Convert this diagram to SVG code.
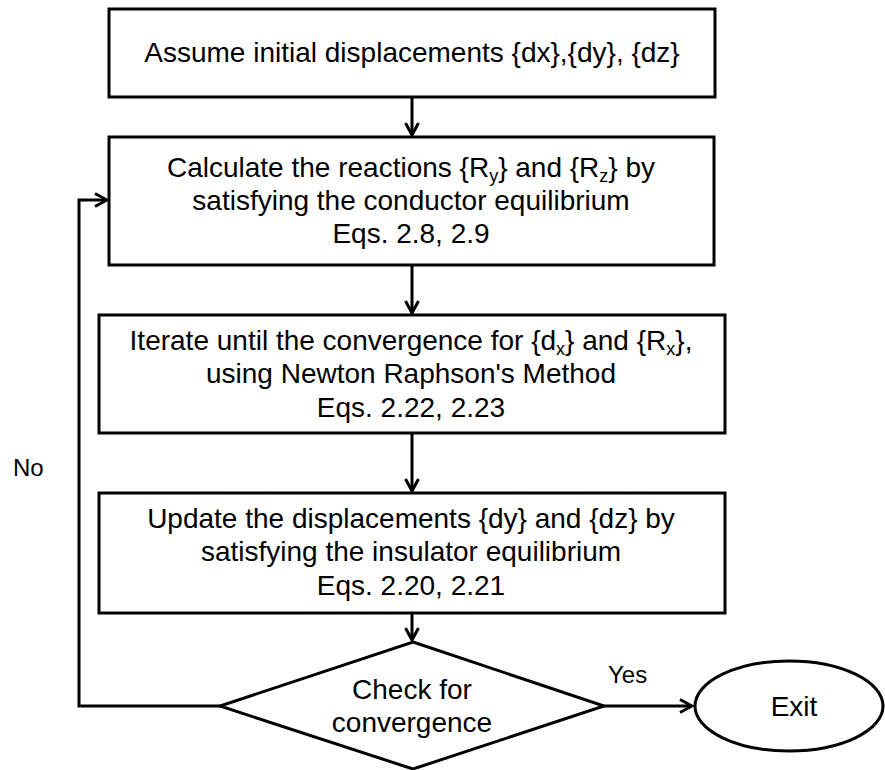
<svg xmlns="http://www.w3.org/2000/svg" width="885" height="770" viewBox="0 0 885 770">
<style>
.box{fill:#fff;stroke:#000;stroke-width:3}
.t{font-family:"Liberation Sans",Arial,sans-serif;font-size:28px;fill:#000;text-anchor:middle}
.lbl{font-family:"Liberation Sans",Arial,sans-serif;font-size:24px;fill:#000}
.con{fill:none;stroke:#000;stroke-width:3}
</style>
<defs>
<marker id="arr" viewBox="0 0 16 16" refX="14" refY="8" markerWidth="16" markerHeight="16" markerUnits="userSpaceOnUse" orient="auto">
<path d="M2,1.5 L14,8 L2,14.5" fill="none" stroke="#000" stroke-width="3"/>
</marker>
</defs>
<rect width="885" height="770" fill="#fff"/>
<g id="connectors">
<path class="con" d="M412,97 L412,135" marker-end="url(#arr)"/>
<path class="con" d="M412,265 L412,313" marker-end="url(#arr)"/>
<path class="con" d="M412,433 L412,491" marker-end="url(#arr)"/>
<path class="con" d="M412,613 L412,640" marker-end="url(#arr)"/>
<path class="con" d="M604,706 L692,706" marker-end="url(#arr)"/>
<path class="con" d="M220,706 L79,706 L79,200 L107,200" marker-end="url(#arr)"/>
<text class="lbl" x="13" y="476">No</text>
<text class="lbl" x="608" y="683">Yes</text>
</g>
<g id="n1">
<rect class="box" x="109" y="9" width="606" height="88"/>
<text class="t" x="412" y="62">Assume initial displacements {dx},{dy}, {dz}</text>
</g>
<g id="n2">
<rect class="box" x="109" y="137" width="605" height="128"/>
<text class="t" x="411" y="177">Calculate the reactions {R<tspan font-size="18" dy="5">y</tspan><tspan dy="-5">} and {R</tspan><tspan font-size="18" dy="5">z</tspan><tspan dy="-5">} by</tspan></text>
<text class="t" x="411" y="210">satisfying the conductor equilibrium</text>
<text class="t" x="411" y="243">Eqs. 2.8, 2.9</text>
</g>
<g id="n3">
<rect class="box" x="99" y="315" width="626" height="118"/>
<text class="t" x="411" y="350">Iterate until the convergence for {d<tspan font-size="18" dy="5">x</tspan><tspan dy="-5">} and {R</tspan><tspan font-size="18" dy="5">x</tspan><tspan dy="-5">},</tspan></text>
<text class="t" x="411" y="383">using Newton Raphson's Method</text>
<text class="t" x="411" y="417">Eqs. 2.22, 2.23</text>
</g>
<g id="n4">
<rect class="box" x="99" y="493" width="626" height="120"/>
<text class="t" x="411" y="528">Update the displacements {dy} and {dz} by</text>
<text class="t" x="411" y="561">satisfying the insulator equilibrium</text>
<text class="t" x="411" y="595">Eqs. 2.20, 2.21</text>
</g>
<g id="n5">
<polygon class="box" points="413,642 604,706 413,769 220,706"/>
<text class="t" x="412" y="699">Check for</text>
<text class="t" x="412" y="732">convergence</text>
</g>
<g id="n6">
<ellipse class="box" cx="789" cy="706" rx="94" ry="45"/>
<text class="t" x="794" y="716">Exit</text>
</g>
</svg>
